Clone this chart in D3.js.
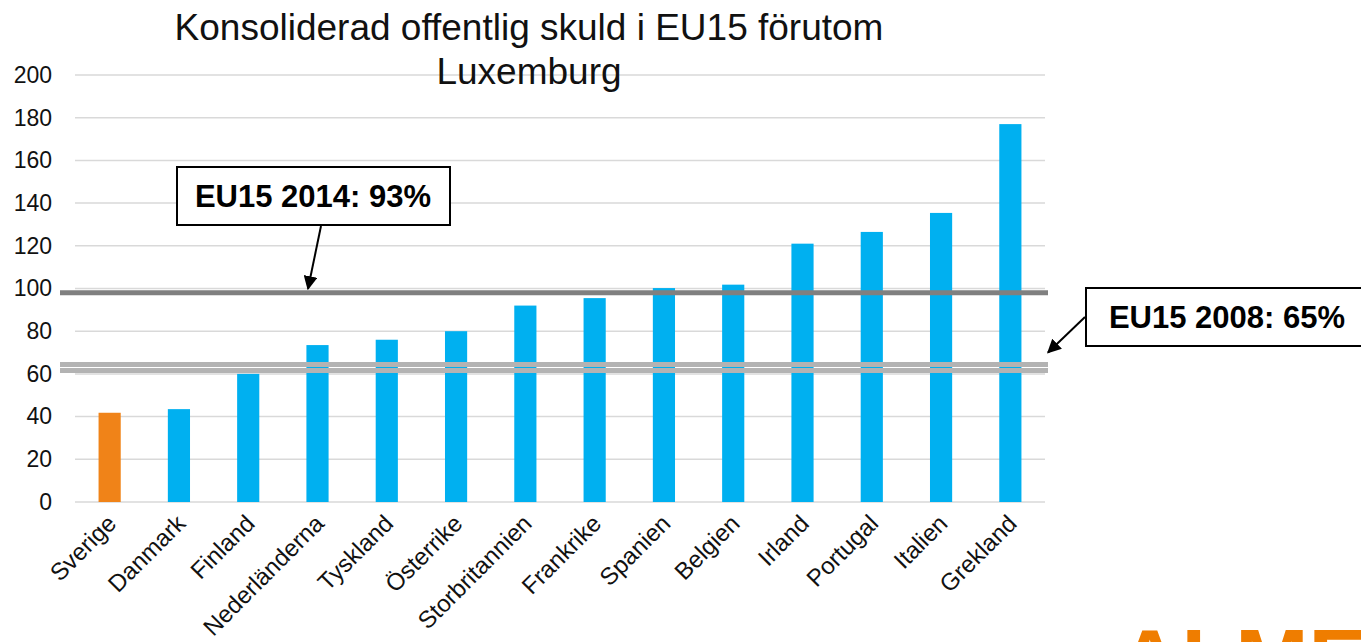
<!DOCTYPE html>
<html>
<head>
<meta charset="utf-8">
<script src="https://cdn.jsdelivr.net/npm/d3@7"></script>
<style>
  body { margin: 0; background: #fff; overflow: hidden; }
  svg { display: block; font-family: "Liberation Sans", Arial, sans-serif; }
</style>
</head>
<body>
<div id="chart"></div>
<script>
const width = 1361;
const height = 642;

const countries = ["Sverige", "Danmark", "Finland", "Nederländerna", "Tyskland", "Österrike",
    "Storbritannien", "Frankrike", "Spanien", "Belgien", "Irland", "Portugal", "Italien", "Grekland"];
const debt = [41.8, 43.5, 60, 73.5, 76, 80, 92, 95.5, 100.2, 101.8, 121, 126.5, 135.4, 177];
const yTicks = [0, 20, 40, 60, 80, 100, 120, 140, 160, 180, 200];
const refDark = [98];
const refLight = [64.4, 61.6];
const callouts = ["EU15 2014: 93%", "EU15 2008: 65%"];
const titleLines = ["Konsoliderad offentlig skuld i EU15 förutom", "Luxemburg"];

(function main(){
    const svg = d3.select("#chart")
        .append("svg")
        .attr("width", width)
        .attr("height", height);

    const defs = svg.append("defs");
    defs.append("marker")
        .attr("id", "arrow")
        .attr("viewBox", "0 0 10 10")
        .attr("refX", 9).attr("refY", 5)
        .attr("markerWidth", 7).attr("markerHeight", 7)
        .attr("orient", "auto")
        .append("path")
        .attr("d", "M0,0 L10,5 L0,10 z")
        .attr("fill", "#000");

    const xScale = d3.scaleBand()
        .domain(countries)
        .range([75, 1045])
        .paddingInner(0.68)
        .paddingOuter(0.34);

    const yScale = d3.scaleLinear()
        .domain([0, 200])
        .range([502, 75]);

    // grid
    svg.append("g")
        .selectAll("line")
        .data(yTicks)
        .join("line")
        .attr("x1", 75).attr("x2", 1045)
        .attr("y1", d => yScale(d)).attr("y2", d => yScale(d))
        .attr("stroke", "#d9d9d9")
        .attr("stroke-width", 1.5);

    // y axis labels
    const yAxis = svg.append("g")
        .attr("transform", "translate(58,0)")
        .call(d3.axisLeft(yScale).tickValues(yTicks).tickSize(0).tickPadding(6));
    yAxis.select(".domain").remove();
    yAxis.selectAll("text")
        .attr("font-size", 23)
        .attr("font-family", "Liberation Sans, Arial, sans-serif")
        .attr("fill", "#111");

    // bars
    svg.append("g")
        .selectAll("rect")
        .data(countries)
        .join("rect")
        .attr("x", d => xScale(d))
        .attr("width", xScale.bandwidth())
        .attr("y", (d, i) => yScale(debt[i]))
        .attr("height", (d, i) => yScale(0) - yScale(debt[i]))
        .attr("fill", d => d === "Sverige" ? "#f08318" : "#00b0f0");

    // reference lines
    svg.append("g")
        .selectAll("line")
        .data(refLight)
        .join("line")
        .attr("x1", 60).attr("x2", 1048)
        .attr("y1", d => yScale(d)).attr("y2", d => yScale(d))
        .attr("stroke", "#b3b3b3")
        .attr("stroke-width", 5);

    svg.append("g")
        .selectAll("line")
        .data(refDark)
        .join("line")
        .attr("x1", 60).attr("x2", 1048)
        .attr("y1", d => yScale(d)).attr("y2", d => yScale(d))
        .attr("stroke", "#808080")
        .attr("stroke-width", 5);

    // x labels
    svg.append("g")
        .selectAll("text")
        .data(countries)
        .join("text")
        .attr("transform", d => `translate(${xScale(d) + xScale.bandwidth()/2 + 2}, 519) rotate(-45)`)
        .attr("text-anchor", "end")
        .attr("dy", "0.35em")
        .attr("font-size", 24)
        .attr("fill", "#111")
        .text(d => d);

    // title
    svg.append("g")
        .selectAll("text")
        .data(titleLines)
        .join("text")
        .attr("x", 529)
        .attr("y", (d, i) => 40 + i * 44)
        .attr("text-anchor", "middle")
        .attr("font-size", 37)
        .attr("fill", "#111")
        .text(d => d);

    // callouts
    const boxes = [
        {x: 177, y: 167, w: 273, h: 58, from: [321, 226], cx: 313},
        {x: 1086, y: 288, w: 278, h: 58, from: [1085, 317], cx: 1227}
    ];
    const arrowEnds = [[308, yScale(refDark[0]) - 4], [1048, yScale(refLight[1]) - 18]];

    boxes.forEach((b, i) => {
        svg.append("rect")
            .attr("x", b.x).attr("y", b.y)
            .attr("width", b.w).attr("height", b.h)
            .attr("fill", "#fff")
            .attr("stroke", "#000")
            .attr("stroke-width", 2);
        svg.append("text")
            .attr("x", b.cx)
            .attr("y", b.y + b.h/2)
            .attr("dy", "0.35em")
            .attr("text-anchor", "middle")
            .attr("font-size", 31)
            .attr("font-weight", "bold")
            .attr("fill", "#000")
            .text(callouts[i]);
        svg.append("line")
            .attr("x1", b.from[0]).attr("y1", b.from[1])
            .attr("x2", arrowEnds[i][0]).attr("y2", arrowEnds[i][1])
            .attr("stroke", "#000")
            .attr("stroke-width", 2)
            .attr("marker-end", "url(#arrow)");
    });

    // partial logo at bottom right
    svg.append("text")
        .attr("x", 1118)
        .attr("y", 690)
        .attr("font-size", 88)
        .attr("font-weight", "bold")
        .attr("fill", "#ef7d00")
        .text("ALMEGA");
})();
</script>
</body>
</html>
